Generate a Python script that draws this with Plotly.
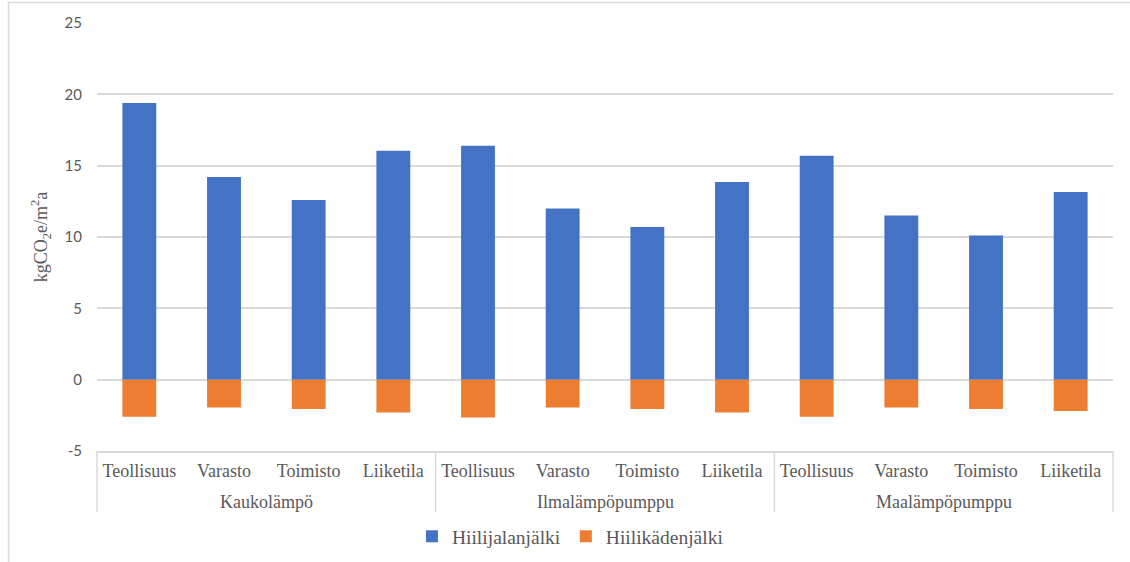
import plotly.graph_objects as go

# Heating systems (outer category) and building types (inner category)
heating = ["Kaukolämpö", "Ilmalämpöpumppu", "Maalämpöpumppu"]
buildings = ["Teollisuus", "Varasto", "Toimisto", "Liiketila"]

# Carbon footprint (positive) and carbon handprint (negative), kgCO2e/m²a
footprint = [19.4, 14.2, 12.6, 16.05,
             16.4, 12.0, 10.7, 13.85,
             15.7, 11.5, 10.1, 13.15]
handprint = [-2.6, -1.95, -2.05, -2.3,
             -2.65, -1.95, -2.05, -2.3,
             -2.6, -1.95, -2.05, -2.2]

y_ticks = [-5, 0, 5, 10, 15, 20, 25]
y_tick_labels = ["-5", "0", "5", "10", "15", "20", "25"]

# One unique category per (heating, building) pair; only the building is shown
keys = [f"{h} / {b}" for h in heating for b in buildings]
inner = [b for _ in heating for b in buildings]

SERIF = "Liberation Serif"
GREY = "#595959"
LINE = "#D9D9D9"

fig = go.Figure()
fig.add_trace(go.Bar(x=keys, y=footprint, name="Hiilijalanjälki",
                     marker=dict(color="#4472C4", line=dict(width=0))))
fig.add_trace(go.Bar(x=keys, y=handprint, name="Hiilikädenjälki",
                     marker=dict(color="#ED7D31", line=dict(width=0))))

# Frame lines around the category labels
n_groups = len(heating)
box_bottom = -0.1425
for i in range(n_groups + 1):
    xp = i / n_groups
    fig.add_shape(type="line", xref="paper", yref="paper",
                  x0=xp, x1=xp, y0=0, y1=box_bottom,
                  line=dict(color=LINE, width=1.5))

# Heating system labels centred under each group
for i, h in enumerate(heating):
    fig.add_annotation(text=h, xref="paper", yref="paper",
                       x=(i + 0.5) / n_groups, y=-0.119,
                       xanchor="center", yanchor="middle", showarrow=False,
                       font=dict(family=SERIF, size=18, color=GREY))

# Outer chart border (top and left edges)
fig.add_shape(type="rect", xref="paper", yref="paper",
              x0=-0.0871, x1=1.3, y0=-2, y1=1.048,
              line=dict(color=LINE, width=1.5), layer="below")

fig.update_layout(
    width=1130, height=562,
    margin=dict(l=97, r=17, t=23, b=111, autoexpand=False),
    paper_bgcolor="white", plot_bgcolor="white",
    barmode="relative", bargap=0.6,
    showlegend=True,
    legend=dict(orientation="h", x=0.466, xanchor="center",
                y=-0.2, yanchor="middle",
                font=dict(family=SERIF, size=19.5, color=GREY),
                itemwidth=30, traceorder="normal"),
    xaxis=dict(type="category", categoryorder="array", categoryarray=keys,
               tickvals=keys, ticktext=inner,
               showline=True, linecolor=LINE, linewidth=1.5,
               showgrid=False, ticks="", automargin=False,
               ticklabelstandoff=3,
               tickfont=dict(family=SERIF, size=18, color=GREY)),
    yaxis=dict(range=[-5, 25], tickvals=y_ticks, ticktext=y_tick_labels,
               showgrid=True, automargin=False,
               gridcolor=LINE, gridwidth=1.5, zeroline=True,
               zerolinecolor=LINE, zerolinewidth=1.5,
               ticks="", ticklabelstandoff=14,
               tickfont=dict(family="Lato", size=15, color=GREY),
               title=dict(text="kgCO<sub>2</sub>e/m<sup>2</sup>a",
                          font=dict(family=SERIF, size=18, color=GREY),
                          standoff=12)),
)

fig.write_html("out.html")
